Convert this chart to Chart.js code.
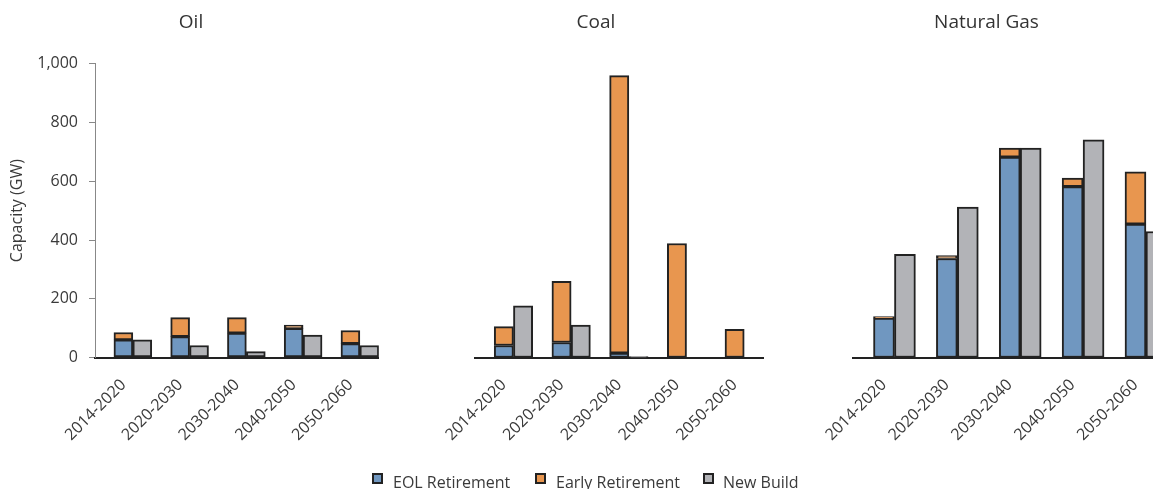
<!DOCTYPE html>
<html>
<head>
<meta charset="utf-8">
<script src="https://cdn.jsdelivr.net/npm/chart.js@4.4.1/dist/chart.umd.min.js"></script>
<style>
  html, body { margin: 0; padding: 0; background: #fff; }
  body { width: 1153px; height: 489px; overflow: hidden; position: relative; font-family: "Open Sans", sans-serif; }
  .panel { position: absolute; top: 0; height: 489px; }
  .legend { position: absolute; top: 471px; font-size: 16px; color: #3a3a3a; white-space: nowrap; }
  .legend span.box { position: absolute; top: 2px; width: 7px; height: 7px; border: 2px solid #222; }
</style>
</head>
<body>
<div class="panel" style="left:0; width:382px;"><canvas id="oilChart"></canvas></div>
<div class="panel" style="left:426px; width:340px;"><canvas id="coalChart"></canvas></div>
<div class="panel" style="left:806px; width:361px;"><canvas id="gasChart"></canvas></div>

<div class="legend" style="left:372px;"><span class="box" style="background:#7097c0"></span><span style="position:absolute; left:21px; top:0;">EOL Retirement</span></div>
<div class="legend" style="left:535px;"><span class="box" style="background:#e8964f"></span><span style="position:absolute; left:21px; top:0;">Early Retirement</span></div>
<div class="legend" style="left:703px;"><span class="box" style="background:#b2b3b7"></span><span style="position:absolute; left:20px; top:0;">New Build</span></div>

<script>
// Periods on the x axis
var periods = ['2014-2020', '2020-2030', '2030-2040', '2040-2050', '2050-2060'];
var yTicks = [0, 200, 400, 600, 800, 1000];

// Capacity in GW
var oilEol = [60, 71, 83, 99, 47];
var oilEarly = [25, 65, 53, 11, 45];
var oilNew = [60, 41, 20, 76, 41];

var coalEol = [41, 51, 15, 0, 0];
var coalEarly = [64, 208, 945, 388, 96];
var coalNew = [176, 110, 3, 0, 0];

var gasEol = [134, 337, 682, 582, 454];
var gasEarly = [5, 10, 31, 29, 178];
var gasNew = [351, 512, 713, 741, 429];

var colors = {
    eol: '#7097c0',
    early: '#e8964f',
    newBuild: '#b2b3b7'
};
var textColor = '#3a3a3a';
var fontFamily = '"Open Sans", sans-serif';

function makeChart(canvasId, title, eol, early, newBuild, yAxisWidth, showY) {
    var barStyle = {
        borderColor: '#222',
        borderWidth: 2,
        borderSkipped: false
    };
    var ctx = document.getElementById(canvasId).getContext('2d');
    return new Chart(ctx, {
        type: 'bar',
        data: {
            labels: periods,
            datasets: [
                // empty slot, Excel leaves a gap on the left of each cluster
                { label: '', data: periods.map(() => null), stack: 'gap' },
                Object.assign({ label: 'EOL Retirement', data: eol, backgroundColor: colors.eol, stack: 'ret' }, barStyle),
                Object.assign({ label: 'Early Retirement', data: early, backgroundColor: colors.early, stack: 'ret' }, barStyle),
                Object.assign({ label: 'New Build', data: newBuild, backgroundColor: colors.newBuild, stack: 'new' }, barStyle)
            ]
        },
        options: {
            responsive: true,
            maintainAspectRatio: false,
            animation: false,
            categoryPercentage: 1.0,
            barPercentage: 1.0,
            layout: { padding: 0 },
            plugins: {
                legend: { display: false },
                tooltip: { enabled: false },
                title: {
                    display: true,
                    text: title,
                    color: '#333',
                    font: { family: fontFamily, size: 19, weight: 'normal' },
                    padding: { top: 11, bottom: 30 }
                }
            },
            scales: {
                x: {
                    stacked: true,
                    grid: { display: false, drawTicks: false },
                    border: { display: true, color: '#222', width: 2 },
                    ticks: {
                        minRotation: 45,
                        maxRotation: 45,
                        padding: 18,
                        color: textColor,
                        font: { family: fontFamily, size: 16 }
                    },
                    afterFit: function(scale) { scale.height = 131.5; }
                },
                y: {
                    stacked: true,
                    min: 0,
                    max: 1000,
                    afterBuildTicks: function(scale) {
                        scale.ticks = yTicks.map(v => ({ value: v }));
                    },
                    grid: {
                        display: showY,
                        drawOnChartArea: false,
                        drawTicks: true,
                        tickLength: 6,
                        color: '#888'
                    },
                    border: { display: showY, color: '#888', width: 1 },
                    ticks: {
                        display: showY,
                        padding: 11,
                        color: textColor,
                        font: { family: fontFamily, size: 16 }
                    },
                    title: {
                        display: showY,
                        text: 'Capacity (GW)',
                        color: textColor,
                        font: { family: fontFamily, size: 16 },
                        padding: { top: 8, bottom: 0 }
                    },
                    // same width on every panel keeps the titles where the original has them
                    afterFit: function(scale) { scale.width = yAxisWidth; }
                }
            }
        }
    });
}

makeChart('oilChart', 'Oil', oilEol, oilEarly, oilNew, 95, true);
makeChart('coalChart', 'Coal', coalEol, coalEarly, coalNew, 47, false);
makeChart('gasChart', 'Natural Gas', gasEol, gasEarly, gasNew, 46, false);
</script>
</body>
</html>
